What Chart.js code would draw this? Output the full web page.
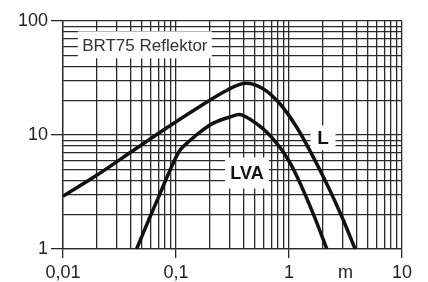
<!DOCTYPE html>
<html>
<head>
<meta charset="utf-8">
<script src="https://cdn.jsdelivr.net/npm/chart.js@4/dist/chart.umd.min.js"></script>
<style>
  body { margin: 0; background: #fff; }
  canvas { display: block; }
</style>
</head>
<body>
<canvas id="chart" width="428" height="282"></canvas>
<script>
// distance in m
const lX = [0.01, 0.02, 0.04, 0.08, 0.16, 0.28, 0.41, 0.59, 0.83, 1.17, 1.64, 2.31, 3.04, 3.85];
const lY = [2.9, 4.45, 7.1, 11.3, 17.6, 24.6, 28.4, 25.5, 18.8, 11.7, 6.4, 3.25, 1.77, 1.0];
const lvaX = [0.0448, 0.0587, 0.072, 0.0883, 0.108, 0.133, 0.163, 0.214, 0.30, 0.38, 0.59, 0.83, 1.03, 1.26, 1.64, 2.16];
const lvaY = [1.0, 1.9, 3.04, 4.88, 7.31, 8.95, 10.6, 12.7, 14.4, 15.0, 11.3, 7.8, 5.6, 3.73, 2.03, 1.0];

const xGrid = [0.01, 0.02, 0.03, 0.04, 0.05, 0.06, 0.07, 0.08, 0.09,
  0.1, 0.2, 0.3, 0.4, 0.5, 0.6, 0.7, 0.8, 0.9,
  1, 2, 3, 4, 5, 6, 7, 8, 9, 10];
const xLabels = { 0.01: '0,01', 0.1: '0,1', 1: '1', 10: '10' };
const unitPos = 3.162; // where the "m" sits
const yGrid = [1, 2, 3, 4, 5, 6, 7, 8, 9, 10, 20, 30, 40, 50, 60, 70, 80, 90, 100];
const yLabels = { 1: '1', 10: '10', 100: '100' };

const notes = [
  { text: 'BRT75 Reflektor', x: 0.053, y: 61.8, w: 134, h: 27, font: '17px "Liberation Sans"', color: '#333' },
  { text: 'L', x: 2.0, y: 9.41, w: 25, h: 25, font: 'bold 19px "Liberation Sans"', color: '#111' },
  { text: 'LVA', x: 0.425, y: 4.64, w: 44, h: 31, font: 'bold 18px "Liberation Sans"', color: '#111' }
];

const toPoints = (xs, ys) => xs.map((x, i) => ({ x: x, y: ys[i] }));

const gridCol = '#2a2a2a';

const notesPlugin = {
  id: 'notes',
  beforeDatasetsDraw(chart) {
    const ctx = chart.ctx;
    const sx = chart.scales.x, sy = chart.scales.y;
    ctx.save();
    notes.forEach(n => {
      const px = sx.getPixelForValue(n.x);
      const py = sy.getPixelForValue(n.y);
      ctx.fillStyle = '#fff';
      ctx.fillRect(px - n.w / 2, py - n.h / 2, n.w, n.h);
      ctx.fillStyle = n.color;
      ctx.font = n.font;
      ctx.textAlign = 'center';
      ctx.textBaseline = 'middle';
      ctx.fillText(n.text, px, py + 1);
    });
    ctx.restore();
  }
};

const isMajor = v => v === 0.01 || v === 0.1 || v === 1 || v === 10 || v === 100;

new Chart(document.getElementById('chart'), {
  type: 'line',
  data: {
    datasets: [
      {
        label: 'L',
        data: toPoints(lX, lY),
        borderColor: '#111',
        borderWidth: 3.5,
        pointRadius: 0,
        tension: 0.35
      },
      {
        label: 'LVA',
        data: toPoints(lvaX, lvaY),
        borderColor: '#111',
        borderWidth: 3.5,
        pointRadius: 0,
        tension: 0.35
      }
    ]
  },
  options: {
    responsive: false,
    animation: false,
    devicePixelRatio: 1,
    layout: { padding: { top: 21, right: 26, left: 0, bottom: 0 } },
    plugins: {
      legend: { display: false },
      tooltip: { enabled: false }
    },
    scales: {
      x: {
        type: 'logarithmic',
        min: 0.01,
        max: 10,
        afterBuildTicks: (scale) => {
          const vals = xGrid.concat([unitPos]).sort((a, b) => a - b);
          scale.ticks = vals.map(v => ({ value: v }));
        },
        afterFit: (scale) => { scale.height = 33; },
        border: { color: gridCol, width: 1.3 },
        grid: {
          color: (c) => (c.tick && c.tick.value === unitPos) ? 'rgba(0,0,0,0)' : gridCol,
          lineWidth: 1.3,
          tickLength: 9,
          tickColor: (c) => (c.tick && isMajor(c.tick.value)) ? gridCol : 'rgba(0,0,0,0)'
        },
        ticks: {
          autoSkip: false,
          maxRotation: 0,
          padding: 4,
          color: '#222',
          font: { family: '"Liberation Sans"', size: 18 },
          callback: (v) => v === unitPos ? 'm' : (xLabels[v] || '')
        }
      },
      y: {
        type: 'logarithmic',
        min: 1,
        max: 100,
        afterBuildTicks: (scale) => {
          scale.ticks = yGrid.map(v => ({ value: v }));
        },
        afterFit: (scale) => { scale.width = 63; },
        border: { color: gridCol, width: 1.3 },
        grid: {
          color: gridCol,
          lineWidth: 1.3,
          tickLength: 12,
          tickColor: (c) => (c.tick && isMajor(c.tick.value)) ? gridCol : 'rgba(0,0,0,0)'
        },
        ticks: {
          autoSkip: false,
          padding: 3,
          color: '#222',
          font: { family: '"Liberation Sans"', size: 18 },
          callback: (v) => yLabels[v] || ''
        }
      }
    }
  },
  plugins: [notesPlugin]
});
</script>
</body>
</html>
